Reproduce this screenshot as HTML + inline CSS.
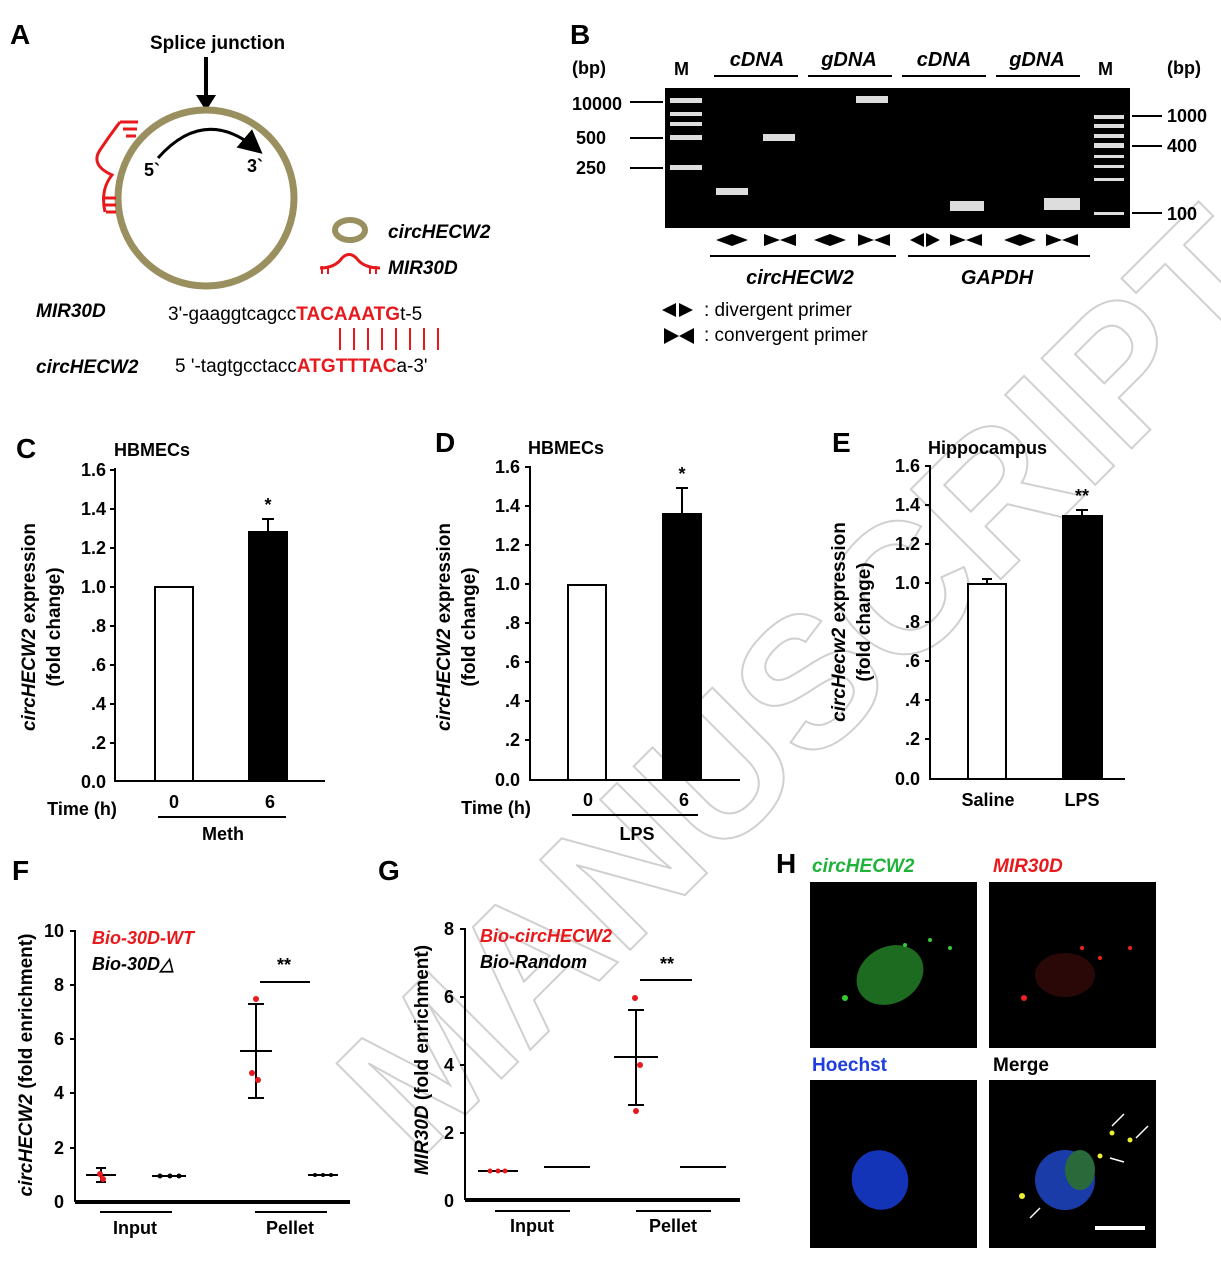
<!DOCTYPE html>
<html><head><meta charset="utf-8"><style>html,body{margin:0;background:#fff;width:1221px;height:1268px;overflow:hidden}svg{display:block;overflow:hidden}text{font-family:"Liberation Sans",Arial,sans-serif}</style></head><body>
<svg width="1221" height="1268" viewBox="0 0 1221 1268" xmlns="http://www.w3.org/2000/svg">
<defs><marker id="ah" markerWidth="8" markerHeight="8" refX="6" refY="4" orient="auto"><path d="M0,0L8,4L0,8z" fill="#000"/></marker></defs>
<text x="0" y="0" transform="translate(1290,290) rotate(-45)" text-anchor="end" font-size="185" font-weight="bold" fill="none" stroke="#d0d0d0" stroke-width="2">MANUSCRIPT</text>

<!-- Panel A -->
<text x="10" y="44" font-size="28" font-weight="bold">A</text>
<text x="150" y="49" font-size="19" font-weight="bold">Splice junction</text>
<line x1="206" y1="57" x2="206" y2="100" stroke="#000" stroke-width="4"/>
<path d="M196,95L216,95L206,111z" fill="#000"/>
<circle cx="206" cy="198" r="88" fill="none" stroke="#9a8f5e" stroke-width="7"/>
<path d="M158,158 Q205,105 258,150" fill="none" stroke="#000" stroke-width="3" marker-end="url(#ah)"/>
<text x="144" y="176" font-size="18" font-weight="bold">5`</text>
<text x="247" y="172" font-size="18" font-weight="bold">3`</text>
<path d="M120,122 Q110,135 100,150 Q90,165 112,175 Q100,190 105,212" fill="none" stroke="#e8191c" stroke-width="3"/>
<path d="M120,122h18M123,129h14M126,136h10M102,198h14M104,205h12M106,212h10" stroke="#e8191c" stroke-width="3"/>
<ellipse cx="350" cy="230" rx="15" ry="10" fill="none" stroke="#9a8f5e" stroke-width="6"/>
<text x="388" y="238" font-size="19" font-weight="bold" font-style="italic">circHECW2</text>
<path d="M320,268 Q335,268 342,258 Q350,250 358,260 Q365,268 380,268" fill="none" stroke="#e8191c" stroke-width="3"/>
<path d="M322,266v8M328,266v8M370,266v8M376,266v8" stroke="#e8191c" stroke-width="2"/>
<text x="388" y="274" font-size="19" font-weight="bold" font-style="italic">MIR30D</text>
<text x="36" y="317" font-size="19" font-weight="bold" font-style="italic">MIR30D</text>
<text x="168" y="320" font-size="19">3'-gaaggtcagcc<tspan fill="#e8191c" font-weight="bold">TACAAATG</tspan>t-5</text>
<path d="M340,328v22M354,328v22M368,328v22M382,328v22M396,328v22M410,328v22M424,328v22M438,328v22" stroke="#e8191c" stroke-width="2"/>
<text x="36" y="373" font-size="19" font-weight="bold" font-style="italic">circHECW2</text>
<text x="175" y="372" font-size="19">5 '-tagtgcctacc<tspan fill="#e8191c" font-weight="bold">ATGTTTAC</tspan>a-3'</text>

<!-- Panel B -->
<text x="570" y="44" font-size="28" font-weight="bold">B</text>
<text x="572" y="74" font-size="18" font-weight="bold">(bp)</text>
<text x="674" y="75" font-size="18" font-weight="bold">M</text>
<text x="1098" y="75" font-size="18" font-weight="bold">M</text>
<text x="1167" y="74" font-size="18" font-weight="bold">(bp)</text>
<g font-size="20" font-weight="bold" font-style="italic" text-anchor="middle">
<text x="757" y="66">cDNA</text><text x="849" y="66">gDNA</text><text x="944" y="66">cDNA</text><text x="1037" y="66">gDNA</text></g>
<path d="M714,76h84M808,76h84M902,76h84M996,76h84" stroke="#000" stroke-width="2"/>
<rect x="665" y="88" width="465" height="140" fill="#000"/>
<g font-size="18" font-weight="bold"><text x="572" y="110">10000</text><text x="576" y="144">500</text><text x="576" y="174">250</text>
<text x="1167" y="122">1000</text><text x="1167" y="152">400</text><text x="1167" y="220">100</text></g>
<path d="M630,102h33M630,138h33M630,168h33M1132,116h30M1132,146h30M1132,213h30" stroke="#000" stroke-width="2"/>
<g fill="#ddd"><rect x="670" y="98" width="32" height="5"/><rect x="670" y="112" width="32" height="4"/><rect x="670" y="122" width="32" height="4"/><rect x="670" y="135" width="32" height="5"/><rect x="670" y="165" width="32" height="5"/>
<rect x="1094" y="115" width="30" height="4"/><rect x="1094" y="124" width="30" height="4"/><rect x="1094" y="134" width="30" height="4"/><rect x="1094" y="143" width="30" height="5"/><rect x="1094" y="155" width="30" height="3"/><rect x="1094" y="165" width="30" height="3"/><rect x="1094" y="178" width="30" height="3"/><rect x="1094" y="212" width="30" height="3"/>
<rect x="716" y="188" width="32" height="7"/><rect x="763" y="134" width="32" height="7"/><rect x="856" y="96" width="32" height="7"/><rect x="950" y="201" width="34" height="10"/><rect x="1044" y="198" width="36" height="12"/></g>
<g fill="#000">
<path d="M716,240l16,-6l16,6l-16,6z"/><path d="M764,234l16,6l16,-6v12l-16,-6l-16,6z"/>
<path d="M814,240l16,-6l16,6l-16,6z"/><path d="M858,234l16,6l16,-6v12l-16,-6l-16,6z"/>
<path d="M910,240l14,-7v14z M926,233l14,7l-14,7z"/><path d="M950,234l16,6l16,-6v12l-16,-6l-16,6z"/>
<path d="M1004,240l16,-6l16,6l-16,6z"/><path d="M1046,234l16,6l16,-6v12l-16,-6l-16,6z"/></g>
<path d="M710,256h186M908,256h182" stroke="#000" stroke-width="2"/>
<text x="800" y="284" font-size="20" font-weight="bold" font-style="italic" text-anchor="middle">circHECW2</text>
<text x="997" y="284" font-size="20" font-weight="bold" font-style="italic" text-anchor="middle">GAPDH</text>
<path d="M662,310l14,-7v14z M679,303l14,7l-14,7z" fill="#000"/>
<text x="704" y="316" font-size="19">: divergent primer</text>
<path d="M664,328l15,8l15,-8v16l-15,-8l-15,8z" fill="#000"/>
<text x="704" y="341" font-size="19">: convergent primer</text>

<!-- Panel C,D,E -->
<g font-size="18" font-weight="bold">
<text x="16" y="458" font-size="28">C</text><text x="114" y="456">HBMECs</text>
<text x="435" y="452" font-size="28">D</text><text x="528" y="454">HBMECs</text>
<text x="832" y="452" font-size="28">E</text><text x="928" y="454">Hippocampus</text>
</g>
<g font-size="18" font-weight="bold" text-anchor="end">
<text x="106" y="476">1.6</text><text x="106" y="515">1.4</text><text x="106" y="554">1.2</text><text x="106" y="593">1.0</text><text x="106" y="632">.8</text><text x="106" y="671">.6</text><text x="106" y="710">.4</text><text x="106" y="749">.2</text><text x="106" y="788">0.0</text>
<text x="520" y="473">1.6</text><text x="520" y="512">1.4</text><text x="520" y="551">1.2</text><text x="520" y="590">1.0</text><text x="520" y="629">.8</text><text x="520" y="668">.6</text><text x="520" y="707">.4</text><text x="520" y="746">.2</text><text x="520" y="786">0.0</text>
<text x="920" y="472">1.6</text><text x="920" y="511">1.4</text><text x="920" y="550">1.2</text><text x="920" y="589">1.0</text><text x="920" y="628">.8</text><text x="920" y="667">.6</text><text x="920" y="706">.4</text><text x="920" y="745">.2</text><text x="920" y="785">0.0</text>
</g>
<g stroke="#000" stroke-width="2" fill="none">
<path d="M115,468V781H325M110,470h5M110,509h5M110,548h5M110,587h5M110,626h5M110,665h5M110,704h5M110,743h5"/>
<path d="M530,466V780H740M525,467h5M525,506h5M525,545h5M525,584h5M525,623h5M525,662h5M525,701h5M525,740h5"/>
<path d="M930,465V779H1125M925,466h5M925,505h5M925,544h5M925,583h5M925,622h5M925,661h5M925,700h5M925,739h5"/>
</g>
<rect x="155" y="587" width="38" height="194" fill="#fff" stroke="#000" stroke-width="2"/>
<rect x="248" y="531" width="40" height="250" fill="#000"/><path d="M268,531V519M262,519h12" stroke="#000" stroke-width="2"/>
<rect x="568" y="585" width="38" height="195" fill="#fff" stroke="#000" stroke-width="2"/>
<rect x="662" y="513" width="40" height="267" fill="#000"/><path d="M682,513V488M676,488h12" stroke="#000" stroke-width="2"/>
<rect x="968" y="584" width="38" height="195" fill="#fff" stroke="#000" stroke-width="2"/><path d="M987,584V579M982,579h10" stroke="#000" stroke-width="2"/>
<rect x="1062" y="515" width="41" height="264" fill="#000"/><path d="M1082,515V510M1076,510h12" stroke="#000" stroke-width="2"/>
<g font-size="18" font-weight="bold" text-anchor="middle">
<text x="268" y="511">*</text><text x="682" y="480">*</text><text x="1082" y="502">**</text>
<text x="82" y="815">Time (h)</text><text x="174" y="808">0</text><text x="270" y="808">6</text><text x="223" y="840">Meth</text>
<text x="496" y="814">Time (h)</text><text x="588" y="806">0</text><text x="684" y="806">6</text><text x="637" y="840">LPS</text>
<text x="988" y="806">Saline</text><text x="1082" y="806">LPS</text></g>
<path d="M158,817h128M572,815h126" stroke="#000" stroke-width="2"/>
<g font-size="19" font-weight="bold" text-anchor="middle">
<text transform="translate(35,627) rotate(-90)"><tspan font-style="italic">circHECW2</tspan> expression</text><text transform="translate(60,627) rotate(-90)">(fold change)</text>
<text transform="translate(450,627) rotate(-90)"><tspan font-style="italic">circHECW2</tspan> expression</text><text transform="translate(475,627) rotate(-90)">(fold change)</text>
<text transform="translate(845,622) rotate(-90)"><tspan font-style="italic">circHecw2</tspan> expression</text><text transform="translate(870,622) rotate(-90)">(fold change)</text></g>

<!-- Panel F -->
<text x="12" y="880" font-size="28" font-weight="bold">F</text>
<g font-size="18" font-weight="bold" text-anchor="end">
<text x="64" y="937">10</text><text x="64" y="991">8</text><text x="64" y="1045">6</text><text x="64" y="1099">4</text><text x="64" y="1154">2</text><text x="64" y="1208">0</text></g>
<g stroke="#000" stroke-width="2" fill="none">
<path d="M75,930V1202M70,931h5M70,985h5M70,1039h5M70,1093h5M70,1148h5"/><path d="M75,1202H350" stroke-width="4"/>
<path d="M100,1212h72M255,1212h72"/>
<path d="M86,1175h30M101,1168v14M96,1168h10M96,1182h10M152,1176h34"/>
<path d="M240,1051h32M256,1004v94M248,1004h16M248,1098h16M260,982h50"/>
<path d="M308,1175h30"/></g>
<g fill="#e8191c"><circle cx="100" cy="1174" r="3"/><circle cx="103" cy="1179" r="3"/><circle cx="256" cy="999" r="3"/><circle cx="252" cy="1073" r="3"/><circle cx="258" cy="1080" r="3"/></g>
<g fill="#000"><circle cx="160" cy="1176" r="2.5"/><circle cx="170" cy="1176" r="2.5"/><circle cx="179" cy="1176" r="2.5"/><circle cx="315" cy="1175" r="2"/><circle cx="323" cy="1175" r="2"/><circle cx="331" cy="1175" r="2"/></g>
<text x="92" y="944" font-size="18" font-weight="bold" font-style="italic" fill="#e8191c">Bio-30D-WT</text>
<text x="92" y="970" font-size="18" font-weight="bold" font-style="italic">Bio-30D△</text>
<text x="284" y="971" font-size="18" font-weight="bold" text-anchor="middle">**</text>
<text x="135" y="1234" font-size="18" font-weight="bold" text-anchor="middle">Input</text>
<text x="290" y="1234" font-size="18" font-weight="bold" text-anchor="middle">Pellet</text>
<text transform="translate(32,1065) rotate(-90)" font-size="19" font-weight="bold" text-anchor="middle"><tspan font-style="italic">circHECW2</tspan>  (fold enrichment)</text>

<!-- Panel G -->
<text x="378" y="880" font-size="28" font-weight="bold">G</text>
<g font-size="18" font-weight="bold" text-anchor="end">
<text x="454" y="935">8</text><text x="454" y="1003">6</text><text x="454" y="1071">4</text><text x="454" y="1139">2</text><text x="454" y="1207">0</text></g>
<g stroke="#000" stroke-width="2" fill="none">
<path d="M465,928V1200M460,929h5M460,997h5M460,1065h5M460,1133h5"/><path d="M465,1200H740" stroke-width="4"/>
<path d="M495,1211h75M636,1211h75"/>
<path d="M478,1171h40M544,1167h46"/>
<path d="M614,1057h44M636,1010v95M628,1010h16M628,1105h16M640,980h52"/>
<path d="M680,1167h46"/></g>
<g fill="#e8191c"><circle cx="490" cy="1171" r="2.5"/><circle cx="498" cy="1171" r="2.5"/><circle cx="505" cy="1171" r="2.5"/><circle cx="635" cy="998" r="3"/><circle cx="640" cy="1065" r="3"/><circle cx="636" cy="1111" r="3"/></g>
<text x="480" y="942" font-size="18" font-weight="bold" font-style="italic" fill="#e8191c">Bio-circHECW2</text>
<text x="480" y="968" font-size="18" font-weight="bold" font-style="italic">Bio-Random</text>
<text x="667" y="970" font-size="18" font-weight="bold" text-anchor="middle">**</text>
<text x="532" y="1232" font-size="18" font-weight="bold" text-anchor="middle">Input</text>
<text x="673" y="1232" font-size="18" font-weight="bold" text-anchor="middle">Pellet</text>
<text transform="translate(428,1060) rotate(-90)" font-size="19" font-weight="bold" text-anchor="middle"><tspan font-style="italic">MIR30D</tspan> (fold enrichment)</text>

<!-- Panel H -->
<text x="776" y="873" font-size="28" font-weight="bold">H</text>
<text x="812" y="872" font-size="19" font-weight="bold" font-style="italic" fill="#1fb33a">circHECW2</text>
<text x="993" y="872" font-size="19" font-weight="bold" font-style="italic" fill="#e8191c">MIR30D</text>
<text x="812" y="1071" font-size="19" font-weight="bold" fill="#1d3ee0">Hoechst</text>
<text x="993" y="1071" font-size="19" font-weight="bold">Merge</text>
<rect x="810" y="882" width="167" height="166" fill="#000"/>
<rect x="989" y="882" width="167" height="166" fill="#000"/>
<rect x="810" y="1080" width="167" height="168" fill="#000"/>
<rect x="989" y="1080" width="167" height="168" fill="#000"/>
<ellipse cx="890" cy="975" rx="35" ry="28" fill="#1d6b20" transform="rotate(-30 890 975)"/>
<g fill="#3c3"><circle cx="845" cy="998" r="3"/><circle cx="930" cy="940" r="2"/><circle cx="950" cy="948" r="2"/><circle cx="905" cy="945" r="2"/></g>
<ellipse cx="1065" cy="975" rx="30" ry="22" fill="#2a0808"/>
<g fill="#e22"><circle cx="1024" cy="998" r="3"/><circle cx="1100" cy="958" r="2"/><circle cx="1130" cy="948" r="2"/><circle cx="1082" cy="948" r="2"/></g>
<ellipse cx="880" cy="1180" rx="28" ry="30" fill="#1434b8" transform="rotate(-20 880 1180)"/>
<ellipse cx="1065" cy="1180" rx="30" ry="30" fill="#1a3ca8" transform="rotate(-20 1065 1180)"/>
<ellipse cx="1080" cy="1170" rx="15" ry="20" fill="#2a6a3a"/>
<g fill="#ee3"><circle cx="1022" cy="1196" r="3"/><circle cx="1100" cy="1156" r="2.5"/><circle cx="1112" cy="1133" r="2.5"/><circle cx="1130" cy="1140" r="2.5"/></g>
<g stroke="#fff" stroke-width="1.5"><path d="M1030,1218l10,-10M1112,1126l12,-12M1136,1138l12,-12M1110,1158l14,4"/></g>
<rect x="1095" y="1226" width="50" height="4" fill="#fff"/>
</svg>
</body></html>
